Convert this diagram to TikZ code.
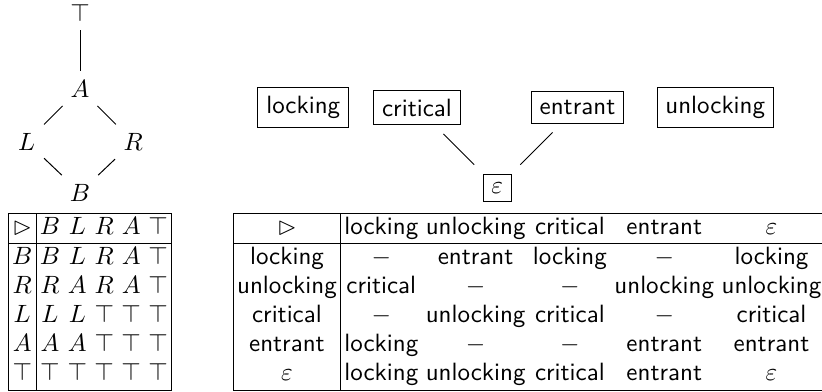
\documentclass[tikz,border=0pt]{standalone}
\usepackage{amssymb}
\usepackage{tikz}
\usetikzlibrary{positioning}
\setlength{\tabcolsep}{1.5pt}
\setlength{\arraycolsep}{1.5pt}
\renewcommand{\arraystretch}{0.97}

\begin{document}
\begin{tikzpicture}[
  x=1pt, y=1pt,
  on grid,
  state/.style={draw, font=\sffamily},
  link/.style={shorten <=5pt, shorten >=5pt},
  tbl/.style={inner sep=0pt}
]
  \useasboundingbox (0,0) rectangle (328.8,-156.4);

  % lattice
  \node (top) at (32,-5) {$\top$};
  \node[below=30.4pt of top] (A) {$A$};
  \node[below left=21.3pt and 21.3pt of A] (L) {$L$};
  \node[below right=21.3pt and 21.3pt of A] (R) {$R$};
  \node[below right=20.3pt and 21.3pt of L] (B) {$B$};

  \draw (top) -- (A);
  \draw (A) -- (L);
  \draw (A) -- (R);
  \draw (L) -- (B);
  \draw (R) -- (B);

  % join table of the lattice
  \node[tbl] (jointab) at (36,-120.7) {$\begin{array}{|c|ccccc|}
    \hline
    \rhd & B & L & R & A & \top\\
    \hline
    B & B & L & R & A & \top\\
    R & R & A & R & A & \top\\
    L & L & L & \top & \top & \top\\
    A & A & A & \top & \top & \top\\
    \top & \top & \top & \top & \top & \top\\
    \hline
  \end{array}$};

  % states
  \node[state] (locking) at (121.3,-43) {locking};
  \node[state, right=45.5pt of locking] (critical) {critical};
  \node[state, right=64.2pt of critical] (entrant) {entrant};
  \node[state, right=55.1pt of entrant] (unlocking) {unlocking};
  \node[state, below right=32.1pt and 32.1pt of critical] (eps) {$\varepsilon$};

  \draw[link] (critical) -- (eps);
  \draw[link] (entrant) -- (eps);

  % combination table of the states
  \node[tbl, font=\sffamily] (statetab) at (211.7,-120.7) {\begin{tabular}{|c|ccccc|}
    \hline
    $\rhd$ & locking & unlocking & critical & entrant & $\varepsilon$\\
    \hline
    locking & $-$ & entrant & locking & $-$ & locking\\
    unlocking & critical & $-$ & $-$ & unlocking & unlocking\\
    critical & $-$ & unlocking & critical & $-$ & critical\\
    entrant & locking & $-$ & $-$ & entrant & entrant\\
    $\varepsilon$ & locking & unlocking & critical & entrant & $\varepsilon$\\
    \hline
  \end{tabular}};
\end{tikzpicture}
\end{document}
